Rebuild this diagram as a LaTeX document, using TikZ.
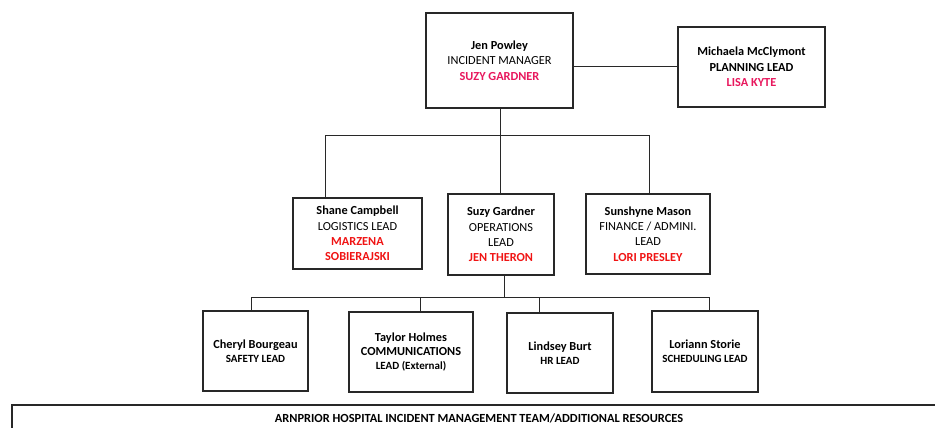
\documentclass[tikz,border=0pt]{standalone}
\usepackage{fontspec}
\setmainfont{Carlito}
\definecolor{pinkred}{RGB}{232,23,93}
\definecolor{brightred}{RGB}{240,20,20}
\definecolor{linegray}{RGB}{40,40,40}
\tikzset{
  orgbox/.style={draw=linegray, line width=1.3pt, align=center, inner sep=0pt,
    font=\fontsize{12.3}{15.3}\selectfont},
  lowbox/.style={orgbox, font=\fontsize{12.3}{14}\selectfont},
  conn/.style={draw=linegray, line width=1pt},
}
\newcommand{\pk}[1]{\textcolor{pinkred}{\textbf{#1}}}
\newcommand{\rd}[1]{\textcolor{brightred}{\textbf{#1}}}
\newcommand{\sm}[1]{{\fontsize{11}{13}\selectfont\textbf{#1}}}
\begin{document}
\begin{tikzpicture}[x=1pt,y=-1pt]
\useasboundingbox (0,0) rectangle (935,428);
\fill[white] (0,0) rectangle (935,428);

% top row
\node[orgbox, minimum width=147pt, minimum height=95pt] (jen) at (499.5,60.5)
  {\textbf{Jen Powley}\\INCIDENT MANAGER\\\pk{SUZY GARDNER}};
\node[orgbox, minimum width=147pt, minimum height=80pt] (plan) at (751.5,67)
  {\textbf{Michaela McClymont}\\\textbf{PLANNING LEAD}\\\pk{LISA KYTE}};

% middle row
\node[orgbox, minimum width=129pt, minimum height=71pt] (log) at (357.5,233.5)
  {\textbf{Shane Campbell}\\LOGISTICS LEAD\\\rd{MARZENA}\\\rd{SOBIERAJSKI}};
\node[orgbox, minimum width=106pt, minimum height=81pt] (ops) at (501,234.5)
  {\textbf{Suzy Gardner}\\OPERATIONS\\LEAD\\\rd{JEN THERON}};
\node[orgbox, minimum width=124pt, minimum height=80pt] (fin) at (648,234)
  {\textbf{Sunshyne Mason}\\FINANCE / ADMINI.\\LEAD\\\rd{LORI PRESLEY}};

% bottom row
\node[lowbox, minimum width=105pt, minimum height=80pt] (saf) at (255.5,351)
  {\textbf{Cheryl Bourgeau}\\\sm{SAFETY LEAD}};
\node[lowbox, minimum width=124pt, minimum height=80pt] (com) at (411,352)
  {\textbf{Taylor Holmes}\\\textbf{COMMUNICATIONS}\\\sm{LEAD (External)}};
\node[lowbox, minimum width=106pt, minimum height=80pt] (hr) at (560,353)
  {\textbf{Lindsey Burt}\\\sm{HR LEAD}};
\node[lowbox, minimum width=106pt, minimum height=81pt] (sch) at (705,351.5)
  {\textbf{Loriann Storie}\\\sm{SCHEDULING LEAD}};

% banner
\draw[draw=linegray, line width=1.3pt] (12,405) rectangle (950,450);
\node[font=\fontsize{12.4}{14}\selectfont\bfseries] (banner) at (479,418)
  {ARNPRIOR HOSPITAL INCIDENT MANAGEMENT TEAM/ADDITIONAL RESOURCES};

% connectors
\path[conn] (plan.west) -- (plan.west -| jen.east);
\coordinate (busA) at (500,135);
\coordinate (busAl) at (325,135);
\coordinate (busAr) at (649,135);
\path[conn] (jen.south -| busA) -- (ops.north -| busA);
\path[conn] (busAl) -- (busAr);
\path[conn] (busAl) -- (busAl |- log.north);
\path[conn] (busAr) -- (busAr |- fin.north);

\coordinate (busB) at (504,297);
\coordinate (busBl) at (251,297);
\coordinate (busBr) at (709,297);
\coordinate (dropC) at (420,297);
\coordinate (dropH) at (539,297);
\path[conn] (ops.south -| busB) -- (busB);
\path[conn] (busBl) -- (busBr);
\path[conn] (busBl) -- (busBl |- saf.north);
\path[conn] (dropC) -- (dropC |- com.north);
\path[conn] (dropH) -- (dropH |- hr.north);
\path[conn] (busBr) -- (busBr |- sch.north);
\end{tikzpicture}
\end{document}
